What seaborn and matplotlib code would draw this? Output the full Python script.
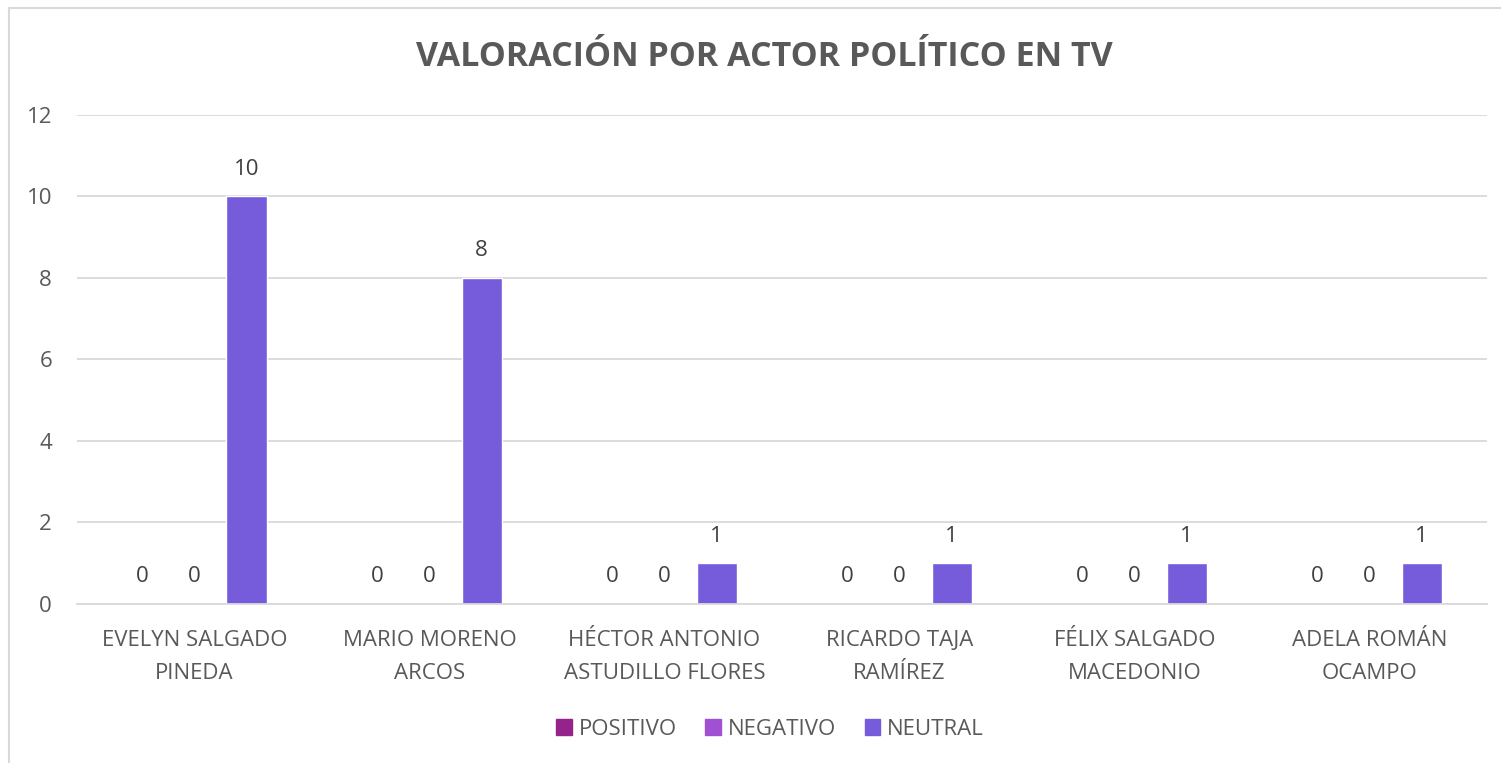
import pandas as pd
import matplotlib.pyplot as plt
import matplotlib.patches as mpatches
import seaborn as sns

# datos
actores = [
    "EVELYN SALGADO\nPINEDA",
    "MARIO MORENO\nARCOS",
    "HÉCTOR ANTONIO\nASTUDILLO FLORES",
    "RICARDO TAJA\nRAMÍREZ",
    "FÉLIX SALGADO\nMACEDONIO",
    "ADELA ROMÁN\nOCAMPO",
]
valoraciones = ["POSITIVO", "NEGATIVO", "NEUTRAL"]
positivo = [0, 0, 0, 0, 0, 0]
negativo = [0, 0, 0, 0, 0, 0]
neutral = [10, 8, 1, 1, 1, 1]
colores = ["#96238C", "#A050D2", "#765CDB"]

df = pd.DataFrame({
    "Actor": actores * 3,
    "Valoracion": [v for v in valoraciones for _ in actores],
    "Cantidad": positivo + negativo + neutral,
})

sns.set_theme(style="white")
plt.rcParams["font.family"] = ["Open Sans", "DejaVu Sans"]
gris = "#595959"

fig = plt.figure(figsize=(15.01, 7.63), dpi=100)
ax = fig.add_axes([0.0513, 0.2084, 0.9394, 0.6409])

sns.barplot(data=df, x="Actor", y="Cantidad", hue="Valoracion",
            hue_order=valoraciones, palette=colores, width=0.664, gap=0.23,
            saturation=1, legend=False, ax=ax)

for cont in ax.containers:
    ax.bar_label(cont, padding=12, fontsize=16, color="#404040")

ax.set_ylim(0, 12)
ax.set_yticks(range(0, 13, 2))
ax.set_xlim(-0.5, len(actores) - 0.5)
ax.grid(axis="y", color="#D9D9D9", linewidth=1.3)
ax.set_axisbelow(True)
for s in ["top", "right", "left"]:
    ax.spines[s].set_visible(False)
ax.spines["bottom"].set_color("#D9D9D9")
ax.spines["bottom"].set_linewidth(1.3)
ax.tick_params(axis="y", length=0, pad=18, labelsize=16, labelcolor=gris)
ax.tick_params(axis="x", length=0, pad=19, labelsize=16, labelcolor=gris)
for t in ax.get_xticklabels():
    t.set_linespacing(1.75)
ax.set_xlabel("")
ax.set_ylabel("")

fig.text(0.509, 0.925, "VALORACIÓN POR ACTOR POLÍTICO EN TV", ha="center",
         va="center", fontsize=24.5, fontweight="bold", color=gris)

handles = [mpatches.Patch(color=c, label=v) for c, v in zip(colores, valoraciones)]
fig.legend(handles=handles, loc="center", bbox_to_anchor=(0.513, 0.044), ncol=3,
           frameon=False, fontsize=16, labelcolor=gris, handlelength=0.7,
           handleheight=0.7, handletextpad=0.3, columnspacing=1.3)

# marco del grafico
fig.patches.append(mpatches.Rectangle((9 / 1501, -10 / 763), 1510 / 1501, 765 / 763,
                                      transform=fig.transFigure, fill=False,
                                      edgecolor="#D9D9D9", linewidth=1.5))

fig.savefig("out.png", dpi=100)
